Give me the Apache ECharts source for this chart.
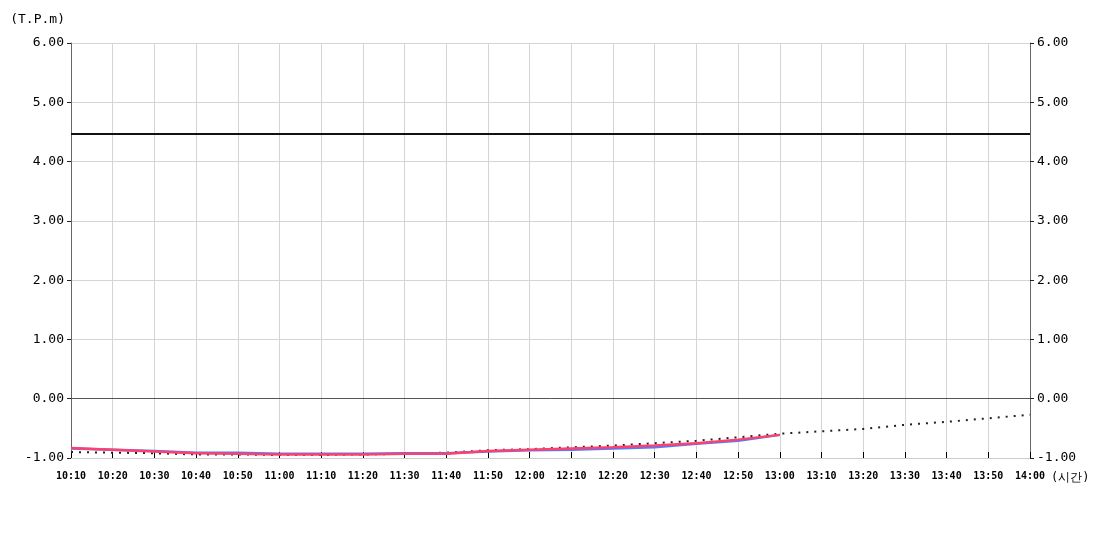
<!DOCTYPE html>
<html>
<head>
<meta charset="utf-8">
<script src="https://cdn.jsdelivr.net/npm/echarts@6/dist/echarts.min.js"></script>
<style>
  html, body { margin: 0; padding: 0; background: #fff; }
  #chart { width: 1100px; height: 550px; }
</style>
</head>
<body>
<div id="chart"></div>
<script>
// time labels (10 minute steps)
var times = ["10:10", "10:20", "10:30", "10:40", "10:50", "11:00", "11:10", "11:20",
  "11:30", "11:40", "11:50", "12:00", "12:10", "12:20", "12:30", "12:40", "12:50",
  "13:00", "13:10", "13:20", "13:30", "13:40", "13:50", "14:00"];

// measured values (T.P.m)
var blueValues = [-0.84, -0.86, -0.88, -0.91, -0.91, -0.93, -0.93, -0.93, -0.92, -0.92,
  -0.89, -0.87, -0.86, -0.84, -0.82, -0.76, -0.71, -0.61];
var redValues = [-0.83, -0.86, -0.89, -0.92, -0.93, -0.94, -0.94, -0.94, -0.93, -0.93,
  -0.88, -0.86, -0.84, -0.82, -0.79, -0.75, -0.69, -0.61];
// trend / prediction (dotted)
var trendValues = [-0.90, -0.91, -0.92, -0.94, -0.94, -0.95, -0.95, -0.94, -0.93, -0.91,
  -0.87, -0.85, -0.82, -0.79, -0.75, -0.71, -0.65, -0.59, -0.55, -0.51, -0.44, -0.39,
  -0.33, -0.27];

var limitValue = 4.47;
var zeroValue = 0;

var fontFamily = "DejaVu Sans Mono";

var dom = document.getElementById("chart");
var myChart = echarts.init(dom);

var yAxisBase = {
  type: "value",
  min: -1,
  max: 6,
  interval: 1,
  axisLine: { show: true, lineStyle: { color: "#666", width: 1 } },
  axisTick: { show: true, length: 4, lineStyle: { color: "#222" } },
  axisLabel: {
    color: "#000",
    fontFamily: fontFamily,
    fontSize: 13,
    margin: 7,
    formatter: function (v) { return v.toFixed(2); },
  },
};

var option = {
  animation: false,
  backgroundColor: "#fff",
  grid: { left: 71, right: 70, top: 43, bottom: 92 },
  xAxis: {
    type: "category",
    boundaryGap: false,
    data: times,
    name: "(시간)",
    nameLocation: "end",
    nameGap: 4,
    nameTextStyle: {
      color: "#000",
      fontFamily: fontFamily,
      fontSize: 12,
      verticalAlign: "top",
      padding: [14, 0, 0, 0],
    },
    axisLine: { show: true, onZero: false, lineStyle: { color: "#ccc" } },
    axisTick: { show: true, inside: true, length: 6, lineStyle: { color: "#000" } },
    axisLabel: {
      color: "#000",
      fontFamily: fontFamily,
      fontSize: 10,
      fontWeight: "bold",
      margin: 13,
      interval: 0,
    },
    splitLine: { show: true, lineStyle: { color: "#d4d4d4" } },
  },
  yAxis: [
    Object.assign({}, yAxisBase, {
      position: "left",
      name: "(T.P.m)",
      nameLocation: "end",
      nameGap: 17,
      nameTextStyle: {
        color: "#000",
        fontFamily: fontFamily,
        fontSize: 13,
        align: "right",
        padding: [0, 6, 0, 0],
      },
      splitLine: { show: true, lineStyle: { color: "#d4d4d4" } },
    }),
    Object.assign({}, yAxisBase, {
      position: "right",
      splitLine: { show: false },
    }),
  ],
  series: [
    {
      name: "trend",
      type: "line",
      data: trendValues,
      symbol: "none",
      lineStyle: { color: "#222", width: 2, type: [2, 6] },
      z: 3,
    },
    {
      name: "blue",
      type: "line",
      data: blueValues,
      symbol: "none",
      lineStyle: { color: "#4f7dff", width: 2.5 },
      z: 4,
    },
    {
      name: "red",
      type: "line",
      data: redValues,
      symbol: "none",
      lineStyle: { color: "#ff3f6c", width: 2.5 },
      z: 5,
      markLine: {
        silent: true,
        symbol: "none",
        label: { show: false },
        data: [
          { yAxis: limitValue, lineStyle: { color: "#111", width: 2, type: "solid" } },
          { yAxis: zeroValue, lineStyle: { color: "#555", width: 1, type: "solid" } },
        ],
      },
    },
  ],
};

if (option && typeof option === "object") {
  myChart.setOption(option);
}
</script>
</body>
</html>
